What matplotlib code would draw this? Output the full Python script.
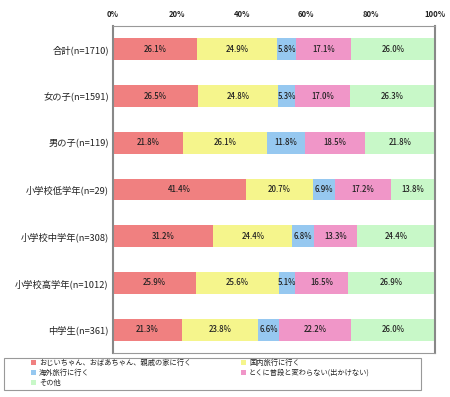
import matplotlib
matplotlib.use("Agg")
import matplotlib.pyplot as plt
from matplotlib.patches import Rectangle, Patch

plt.rcParams['font.family'] = ['Noto Sans CJK JP', 'DejaVu Sans']

categories = ["合計(n=1710)", "女の子(n=1591)", "男の子(n=119)", "小学校低学年(n=29)",
              "小学校中学年(n=308)", "小学校高学年(n=1012)", "中学生(n=361)"]
series_names = ["おじいちゃん、おばあちゃん、親戚の家に行く", "国内旅行に行く", "海外旅行に行く",
                "とくに普段と変わらない(出かけない)", "その他"]
values = [
    [26.1, 26.5, 21.8, 41.4, 31.2, 25.9, 21.3],
    [24.9, 24.8, 26.1, 20.7, 24.4, 25.6, 23.8],
    [5.8, 5.3, 11.8, 6.9, 6.8, 5.1, 6.6],
    [17.1, 17.0, 18.5, 17.2, 13.3, 16.5, 22.2],
    [26.0, 26.3, 21.8, 13.8, 24.4, 26.9, 26.0],
]
xticks = [0, 20, 40, 60, 80, 100]
xtick_labels = ["0%", "20%", "40%", "60%", "80%", "100%"]
colors = ["#F08080", "#F5F58C", "#96C8F0", "#F096C8", "#C8F8C8"]

fig = plt.figure(figsize=(4.5, 3.97), dpi=100)
ax = fig.add_axes([113/450, 1-353/397, 322/450, 327/397])

ypos = list(range(len(categories)))
left = [0.0]*len(categories)
for s, vals in enumerate(values):
    ax.barh(ypos, vals, left=left, height=0.47, color=colors[s], edgecolor='none', label=series_names[s])
    for i, v in enumerate(vals):
        ax.text(left[i] + v/2, ypos[i], f"{v:.1f}%", ha='center', va='center', fontsize=5.6,
                color='#222222', fontweight='medium')
    left = [l + v for l, v in zip(left, vals)]

ax.set_xlim(0, 100)
ax.set_ylim(len(categories)-0.5, -0.5)
ax.set_yticks(ypos)
ax.set_yticklabels(categories, fontsize=6.7, color='#222222')
ax.set_xticks(xticks)
ax.set_xticklabels(xtick_labels, fontsize=5.5, fontweight='bold', color='#222222')
ax.xaxis.tick_top()
ax.tick_params(axis='both', length=0, pad=3)
ax.tick_params(axis='x', pad=5)
for side in ['left', 'right']:
    ax.spines[side].set_color('#888888')
    ax.spines[side].set_linewidth(1.5)
for side in ['top', 'bottom']:
    ax.spines[side].set_color('#999999')
    ax.spines[side].set_linewidth(0.8)

# legend box
fig.patches.append(Rectangle((4/450, 1-390/397), 417/450, 32/397, transform=fig.transFigure,
                             facecolor='white', edgecolor='#999999', linewidth=0.8))
handles = [Patch(facecolor=c, edgecolor='none') for c in colors]
common = dict(loc='upper left', frameon=False, fontsize=5.2,
              handlelength=0.65, handleheight=0.65, handletextpad=0.45, labelspacing=0.28,
              borderpad=0, borderaxespad=0, labelcolor='#222222')
fig.legend([handles[0], handles[2], handles[4]], [series_names[0], series_names[2], series_names[4]],
           bbox_to_anchor=(31/450, 1-359/397), **common)
fig.legend([handles[1], handles[3]], [series_names[1], series_names[3]],
           bbox_to_anchor=(241/450, 1-359/397), **common)

fig.savefig("out.png", dpi=100)
